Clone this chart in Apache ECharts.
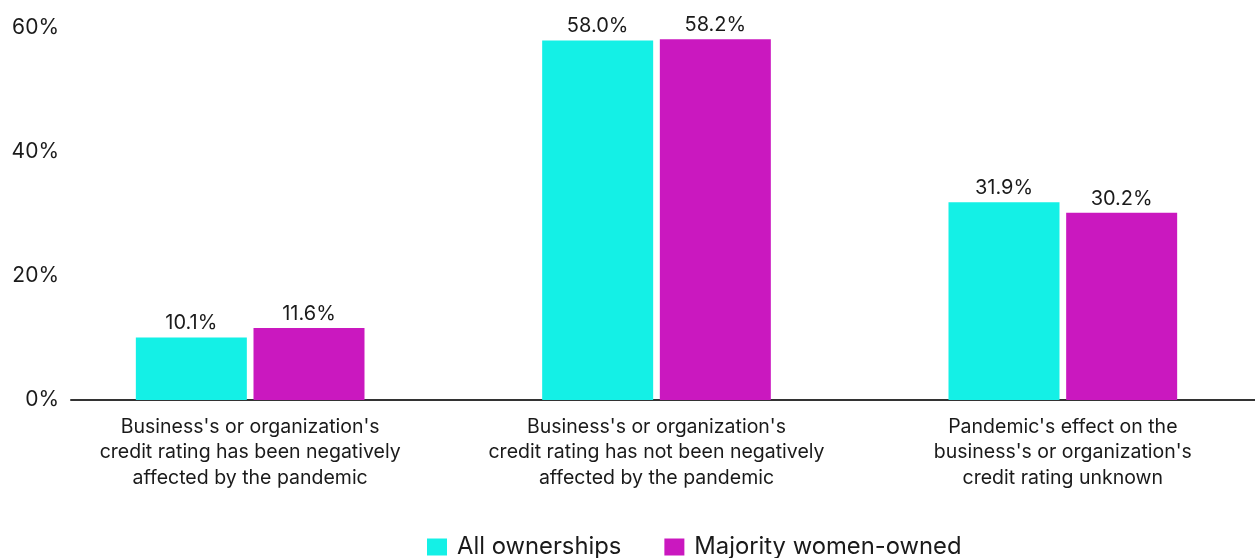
<!DOCTYPE html>
<html>
<head>
<meta charset="utf-8">
<script src="https://cdn.jsdelivr.net/npm/echarts@6/dist/echarts.min.js"></script>
<style>
  html, body { margin: 0; padding: 0; background: #fff; }
  #chart { width: 1255px; height: 558px; }
</style>
</head>
<body>
<div id="chart"></div>
<script>
// categories + values
const categories = [
  "Business's or organization's\ncredit rating has been negatively\naffected by the pandemic",
  "Business's or organization's\ncredit rating has not been negatively\naffected by the pandemic",
  "Pandemic's effect on the\nbusiness's or organization's\ncredit rating unknown"
];
const allOwnerships = [10.1, 58.0, 31.9];
const womenOwned = [11.6, 58.2, 30.2];
const seriesNames = ['All ownerships', 'Majority women-owned'];
const yTicks = [0, 20, 40, 60];

const font = 'Inter, "Noto Sans", sans-serif';
const textColor = '#1a1a1a';

const chart = echarts.init(document.getElementById('chart'));

const labelStyle = {
  show: true,
  position: 'top',
  distance: 4,
  fontFamily: font,
  fontSize: 20,
  color: textColor,
  formatter: p => p.value.toFixed(1) + '%'
};

chart.setOption({
  animation: false,
  color: ['#14f0e6', '#ca18bf'],
  legend: {
    data: seriesNames,
    left: 422,
    top: 530,
    itemWidth: 20,
    itemHeight: 17,
    itemGap: 43,
    icon: 'rect',
    textStyle: { fontFamily: font, fontSize: 23.8, color: textColor, padding: [0, 0, 0, 5] }
  },
  grid: [
    // bars (a bit wider than the window, like the source)
    { left: 47, width: 1219, top: 28, height: 372, outerBoundsMode: 'none' },
    // axis line + y labels
    { left: 71, right: 0, top: 28, height: 372, outerBoundsMode: 'none' }
  ],
  xAxis: [
    {
      gridIndex: 0,
      type: 'category',
      data: categories,
      axisLine: { show: false },
      axisTick: { show: false },
      axisLabel: {
        margin: 14,
        fontFamily: font,
        fontSize: 19.5,
        lineHeight: 25.5,
        color: textColor,
        interval: 0
      }
    },
    {
      gridIndex: 1,
      type: 'value',
      min: 0,
      max: 1,
      axisLine: { show: true, lineStyle: { color: '#333', width: 2 } },
      axisTick: { show: false },
      axisLabel: { show: false },
      splitLine: { show: false }
    }
  ],
  yAxis: [
    {
      gridIndex: 0,
      type: 'value',
      min: 0,
      max: 60,
      show: false
    },
    {
      gridIndex: 1,
      type: 'value',
      min: yTicks[0],
      max: yTicks[yTicks.length - 1],
      interval: 20,
      axisLine: { show: false },
      axisTick: { show: false },
      splitLine: { show: false },
      axisLabel: {
        margin: 12,
        fontFamily: font,
        fontSize: 21,
        color: textColor,
        padding: [0, 0, 9, 0],
        formatter: v => v + '%'
      }
    }
  ],
  series: [
    {
      name: seriesNames[0],
      type: 'bar',
      xAxisIndex: 0,
      yAxisIndex: 0,
      data: allOwnerships,
      barWidth: 111,
      barGap: '6%',
      label: labelStyle
    },
    {
      name: seriesNames[1],
      type: 'bar',
      xAxisIndex: 0,
      yAxisIndex: 0,
      data: womenOwned,
      barWidth: 111,
      barGap: '6%',
      label: labelStyle
    }
  ]
});
</script>
</body>
</html>
